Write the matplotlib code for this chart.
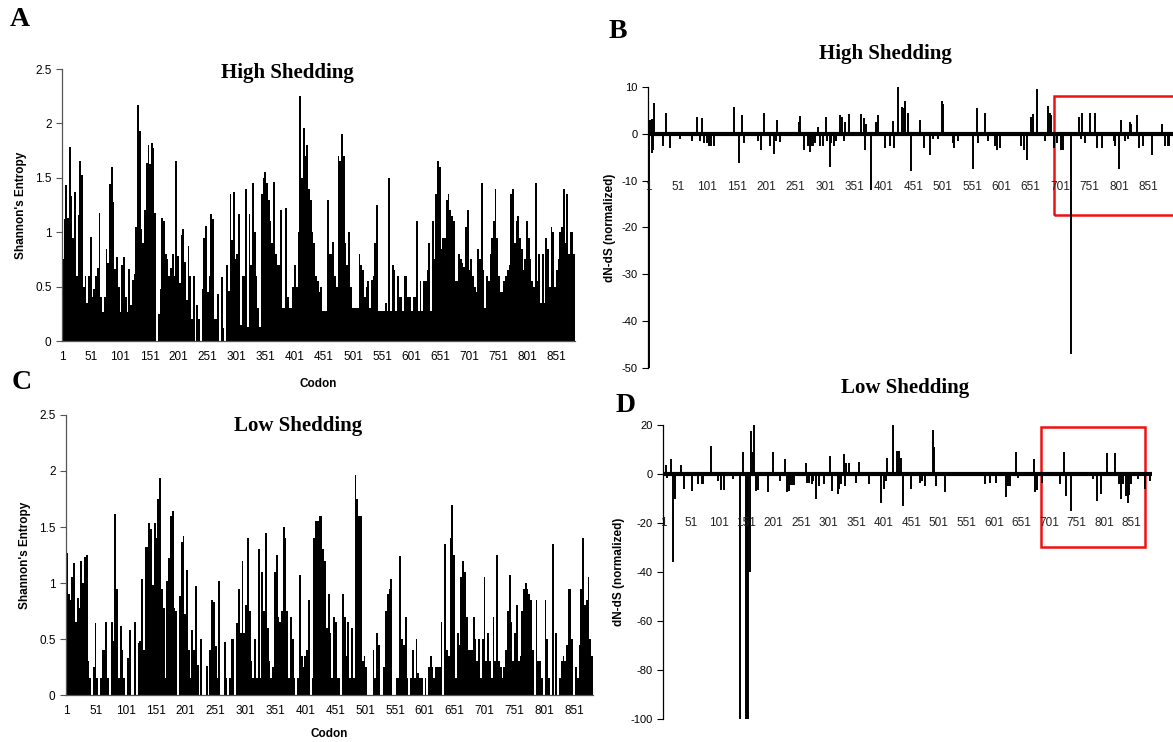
import matplotlib.pyplot as plt
from matplotlib.patches import Rectangle

# Shannon entropy per 3-codon window
BIN = 3
high_entropy = [
    0.75, 1.12, 1.43, 1.13, 1.78, 1.33, 0.95, 1.37, 0.60, 1.16,
    1.65, 1.53, 0.50, 0.60, 0.35, 0.60, 0.96, 0.40, 0.48,
    0.60, 0.67, 1.18, 0.40, 0.27, 0.40, 0.85, 0.72, 1.44,
    1.60, 1.28, 0.66, 0.77, 0.50, 0.27, 0.70, 0.77, 0.40, 0.27,
    0.66, 0.33, 0.56, 0.62, 1.05, 2.17, 1.93, 1.03, 0.90,
    1.20, 1.64, 1.80, 1.63, 1.82, 1.77, 1.18, 0.00, 0.25, 0.48,
    1.13, 1.10, 0.80, 0.75, 0.60, 0.67, 0.80, 0.60, 1.65, 0.78,
    0.53, 0.97, 1.03, 0.73, 0.38, 0.87, 0.60, 0.20, 0.60, 0.00,
    0.33, 0.20, 0.00, 0.48, 0.95, 1.06, 0.45, 0.60, 1.17,
    1.12, 0.20, 0.20, 0.43, 0.00, 0.59, 0.12, 0.00, 0.70,
    0.46, 1.35, 0.93, 1.37, 0.75, 0.80, 1.17,
    0.15, 0.60, 0.60, 1.40, 0.13, 1.17, 0.70, 1.45, 1.00, 0.60,
    0.30, 0.13, 1.35, 1.50, 1.55, 1.45, 1.30, 1.10, 0.90, 1.46,
    0.80, 0.70, 0.70, 1.20, 0.30, 0.30, 1.22, 0.40, 0.30,
    0.30, 0.50, 0.70, 0.50, 1.00, 2.25, 1.50, 1.96, 1.70, 1.80,
    1.40, 1.30, 1.00, 0.90, 0.60, 0.55, 0.45, 0.50, 0.28, 0.28,
    0.28, 1.30, 0.80, 0.80, 0.91, 0.60, 0.50, 1.70, 1.65, 1.90,
    1.70, 0.90, 0.70, 1.00, 0.50, 0.30, 0.30, 0.30, 0.30, 0.80,
    0.70, 0.65, 0.40, 0.50, 0.55, 0.30, 0.56, 0.60, 0.90, 1.25,
    0.28, 0.28, 0.28, 0.28, 0.35, 0.28, 1.50, 0.28, 0.70, 0.65,
    0.28, 0.60, 0.40, 0.40, 0.28, 0.60, 0.60,
    0.40, 0.40, 0.28, 0.40, 0.40, 1.10, 0.28, 0.55, 0.28, 0.55,
    0.55, 0.65, 0.90, 0.28, 1.10, 0.75, 1.35, 1.65, 1.60, 0.85,
    0.95, 0.95, 1.30, 1.35, 1.20, 1.15, 1.10, 0.55, 0.55, 0.80,
    0.75, 0.72, 0.68, 1.05, 1.20, 0.65, 0.75, 0.60, 0.50, 0.45,
    0.85, 0.75, 1.45, 0.65, 0.30, 0.60, 0.55, 0.80, 0.95, 1.10,
    1.40, 0.95, 0.60, 0.45, 0.45, 0.55, 0.60, 0.65, 0.70, 1.35,
    1.40, 0.90, 1.10, 1.15, 0.95, 0.85, 0.65, 0.75, 1.10, 0.95,
    0.75, 0.55, 0.50, 1.45, 0.55, 0.80, 0.35, 0.80, 0.35, 0.95,
    0.85, 0.50, 1.05, 1.00, 0.50, 0.65, 0.75, 1.00, 1.05, 1.40,
    0.90, 1.35, 0.80, 1.00, 1.00, 0.80,
]
low_entropy = [
    1.27, 0.90, 0.85, 1.05, 1.18, 0.65, 0.87, 0.78, 1.20, 1.00,
    1.23, 1.25, 0.30, 0.15, 0.00, 0.25, 0.64, 0.15, 0.00,
    0.15, 0.40, 0.40, 0.65, 0.15, 0.00, 0.65, 0.48,
    1.62, 0.95, 0.15, 0.62, 0.40, 0.15, 0.00, 0.33, 0.58,
    0.00, 0.00, 0.65, 0.00, 0.46, 0.48, 1.04, 0.40,
    1.32, 1.32, 1.54, 1.48, 0.98, 1.54, 1.40, 1.75, 1.94, 0.95,
    0.78, 0.15, 1.02, 1.22, 1.60, 1.64, 0.78, 0.75, 0.00, 0.88,
    1.37, 1.42, 0.72, 1.12, 0.40, 0.15, 0.58, 0.40, 0.97, 0.27,
    0.00, 0.50, 0.00, 0.00, 0.26, 0.00, 0.40, 0.85, 0.83,
    0.44, 0.15, 1.02, 0.00, 0.00, 0.47, 0.15, 0.00, 0.15,
    0.50, 0.50, 0.00, 0.64, 0.95,
    0.55, 1.20, 0.55, 0.80, 1.40, 0.75, 0.30, 0.15, 0.50, 0.15,
    1.30, 0.15, 1.10, 0.75, 1.45, 0.60, 0.30, 0.15, 0.25, 1.10,
    1.25, 0.70, 0.65, 0.75, 1.50, 1.40, 0.75, 0.15, 0.70, 0.50,
    0.15, 0.00, 0.15, 1.07, 0.35, 0.25, 0.35, 0.40, 0.85, 0.00,
    0.15, 1.40, 1.55, 1.55, 1.60, 1.60, 1.30, 1.20, 0.60, 0.90,
    0.55, 0.15, 0.70, 0.65, 0.15, 0.15, 0.00, 0.90, 0.70, 0.35,
    0.65, 0.15, 0.60, 0.15, 1.96, 1.75, 1.60, 1.60, 0.30, 0.35,
    0.25, 0.00, 0.00, 0.00, 0.40, 0.15, 0.55, 0.45, 0.00, 0.00,
    0.25, 0.75, 0.90, 0.95, 1.04, 0.00, 0.00, 0.15, 0.15, 1.24,
    0.50, 0.45, 0.70, 0.15, 0.00, 0.15, 0.40, 0.15, 0.50, 0.20,
    0.15, 0.15, 0.00, 0.15, 0.00, 0.25, 0.35, 0.25, 0.15,
    0.25, 0.25, 0.25, 0.65, 0.00, 1.35, 0.40, 0.35, 1.40,
    1.70, 1.25, 0.15, 0.55, 0.45, 1.05, 1.20, 1.10, 0.70, 0.40,
    0.40, 0.40, 0.70, 0.50, 0.30, 0.50, 0.15, 0.50,
    1.05, 0.30, 0.55, 0.30, 0.15, 0.70, 0.30, 1.25, 0.30, 0.25,
    0.15, 0.25, 0.40, 0.75, 1.07, 0.65, 0.30, 0.55, 0.80,
    0.30, 0.35, 0.75, 0.95, 1.00, 0.95, 0.90, 0.85, 0.40, 0.00,
    0.85, 0.30, 0.30, 0.15, 0.00, 0.85, 0.50, 0.15, 0.00,
    1.35, 0.00, 0.55, 0.00, 0.15, 0.30, 0.35, 0.30, 0.45, 0.95,
    0.95, 0.50, 0.00, 0.25, 0.15, 0.45, 0.95, 1.40, 0.80, 0.85,
    1.05, 0.50, 0.35,
]

# dN-dS (normalized), non-zero codons only
high_dnds_codons = [
    1, 2, 4, 6, 7, 8, 11, 25, 30, 38, 54, 74, 83, 88, 92, 96, 100, 104, 108, 113,
    147, 154, 160, 164, 187, 193, 198, 207, 214, 218, 219, 225, 257, 259, 266, 272,
    275, 278, 281, 284, 289, 293, 297, 302, 305, 309, 312, 316, 320, 326, 330, 333,
    335, 342, 363, 367, 369, 370, 380, 387, 391, 403, 411, 416, 419, 425, 432, 435,
    437, 443, 448, 462, 469, 479, 485, 493, 500, 502, 518, 521, 527, 553, 559, 561,
    574, 578, 590, 594, 598, 635, 639, 644, 652, 655, 661, 676, 680, 684, 686, 690,
    695, 702, 706, 720, 733, 737, 739, 744, 751, 761, 764, 773, 792, 795, 801, 805,
    811, 817, 820, 822, 831, 835, 842, 858, 874, 880, 884, 887,
]
high_dnds_values = [
    -50, 3.0, 3.0, 3.2, -4, -3.5, 6.5, -2.5, 4.5, -3, -1, -1.5, 3.7, -1.5, 3.3, -2, -2, -2.5, -2.5, -2.5,
    5.8, -6.3, 4.0, -2, -1.5, -3.5, 4.5, -2.5, -4.4, -1.5, 3.0, -1.8, 2.5, 3.8, -3.5, -2.5,
    -3.8, -2.5, -2.5, -2, 1.5, -2.5, -2.5, 3.7, -1.5, -7, -2, -2.5, -1.5, 4.0, 3.7, -1.5,
    2.6, 4.2, 4.2, 3.3, -3.5, 2.0, -12, 2.5, 4.0, -3, -2.5, 2.8, -3, 10.5, 5.8, 5.5,
    7.0, 4.5, -8, 3.0, -3, -4.5, -1, -1, 7.0, 6.3, -2, -3, -1.5, -7.5, 5.5, -2,
    4.5, -1.5, -2.5, -3.5, -3, -2.5, -3.5, -5.5, 3.5, 4.2, 9.5, -1.5, 6.0, 4.5, 4.0, -3,
    -2, -3.5, -3.5, -47, 3.5, -1, 4.5, -2, 4.5, 4.5, -3, -3, -1.5, -2.5, -7.5, 3.0,
    -1.5, -1, 2.5, 2.2, 4.0, -3, -2.5, -4.5, 2.0, -2.5, -2.5, -2.5,
]
low_dnds_codons = [
    5, 8, 14, 19, 22, 32, 38, 52, 64, 70, 73, 87, 100, 106, 110, 127, 139, 145, 150, 152,
    154, 158, 160, 163, 166, 169, 172, 190, 200, 212, 222, 225, 228, 231, 234, 237, 260,
    261, 266, 270, 273, 278, 284, 292, 303, 307, 317, 320, 324, 328, 331, 333, 337, 350,
    356, 374, 396, 402, 405, 406, 418, 425, 429, 433, 436, 451, 466, 471, 475, 490, 493,
    495, 512, 585, 593, 604, 623, 626, 631, 641, 644, 673, 676, 679, 689, 721, 729, 732,
    740, 781, 788, 796, 807, 820, 828, 832, 836, 840, 844, 847, 850, 862, 876, 885,
]
low_dnds_values = [
    3.5, -1.5, 6, -36, -10, 3.5, -6, -7, -4, -4, -4, 11.5, -3, -6.5, -6.5, -2, -100, 9, -100, -100,
    -100, -40, 17.5, 9, 21, -7, -6.5, -7.5, 9, -3, 6, -7.5, -7, -4.5, -4.5, -4.5, 4.5,
    -3.5, -3.5, -4, -3, -10, -5, -4, 7.5, -7, -8, -6, -4, 8, -5, 4.5, 4.5, -3.5,
    5, -4, -12, -6, -3, 6.5, 21, 9.5, 9.5, 6.5, -13, -6, -3.5, -3, -5, 18, 11,
    -5, -7.5, -4, -3.5, -3.5, -9.5, -5, -5, 9, -1.5, 6, -7.5, -6.5, -3.5, -4, 9, -9,
    -15, -2, -11, -8, 8.5, 8.5, -4, -10, -4, -9, -12, -8.5, -4, -2, -6, -3,
]

codon_ticks = [1, 51, 101, 151, 201, 251, 301, 351, 401, 451, 501, 551, 601, 651, 701, 751, 801, 851]

W, H = 1173, 742
plt.rcParams['font.family'] = ['Liberation Sans', 'DejaVu Sans']
plt.rcParams['axes.unicode_minus'] = False
serif = ['Liberation Serif', 'DejaVu Serif']
fig = plt.figure(figsize=(W / 100, H / 100), dpi=100)


def px_rect(left, right, top, bottom):
    return [left / W, 1 - bottom / H, (right - left) / W, (bottom - top) / H]


def entropy_panel(rect, values, title, title_y, xlabel_pad):
    ax = fig.add_axes(rect)
    x = [BIN * i + 2 for i in range(len(values))]
    ax.bar(x, values, width=BIN, color='black', linewidth=0)
    ax.set_xlim(0.5, BIN * len(values) + 0.5)
    ax.set_ylim(0, 2.5)
    ax.set_yticks([0, 0.5, 1, 1.5, 2, 2.5])
    ax.set_yticklabels(['0', '0.5', '1', '1.5', '2', '2.5'])
    ax.set_xticks(codon_ticks)
    ax.tick_params(axis='x', length=0, pad=7, labelsize=8.5)
    ax.tick_params(axis='y', length=4, width=0.8, color='#555555', labelsize=8.5)
    for s in ['top', 'right']:
        ax.spines[s].set_visible(False)
    for s in ['left', 'bottom']:
        ax.spines[s].set_color('#555555')
        ax.spines[s].set_linewidth(0.9)
    ax.set_ylabel("Shannon's Entropy", fontsize=8.5, fontweight='bold', labelpad=6)
    ax.set_xlabel('Codon', fontsize=8.5, fontweight='bold', labelpad=xlabel_pad)
    ax.text(0.44, title_y, title, transform=ax.transAxes, ha='center', va='center',
            fontsize=15, fontweight='bold', family=serif)
    return ax


def dnds_panel(rect, codons, values, ylim, yticks, label_y, title, title_x, title_y, box):
    ax = fig.add_axes(rect)
    ax.vlines(codons, 0, values, color='black', linewidth=1.4)
    ax.axhline(0, color='black', linewidth=3)
    ax.set_xlim(ylim[2], ylim[3])
    ax.set_ylim(ylim[0], ylim[1])
    ax.set_yticks(yticks)
    ax.set_xticks([])
    ax.tick_params(axis='y', length=4, width=0.8, labelsize=8)
    for s in ['top', 'right', 'bottom']:
        ax.spines[s].set_visible(False)
    ax.spines['left'].set_linewidth(0.9)
    for c in codon_ticks:
        ax.text(c, label_y, str(c), ha='center', va='center', fontsize=8.5, color='#222222')
    ax.set_ylabel('dN-dS (normalized)', fontsize=8.5, fontweight='bold', labelpad=4)
    ax.text(title_x, title_y, title, transform=ax.transAxes, ha='center', va='center',
            fontsize=15, fontweight='bold', family=serif)
    ax.add_patch(Rectangle((box[0], box[2]), box[1] - box[0], box[3] - box[2],
                           fill=False, edgecolor='#ee1111', linewidth=1.8, clip_on=False))
    return ax


entropy_panel(px_rect(62, 575, 69, 341), high_entropy, 'High Shedding', 0.985, 11)
entropy_panel(px_rect(66, 593, 415, 695), low_entropy, 'Low Shedding', 0.96, 8)

dnds_panel(px_rect(648, 1173, 87, 368), high_dnds_codons, high_dnds_values,
           (-50, 10, 0, 893), [10, 0, -10, -20, -30, -40, -50], -11.3,
           'High Shedding', 0.452, 1.118, (690, 900, -17.3, 8.1))
dnds_panel(px_rect(663, 1152, 425, 719), low_dnds_codons, low_dnds_values,
           (-100, 20, 0, 888), [20, 0, -20, -40, -60, -80, -100], -20,
           'Low Shedding', 0.495, 1.125, (687, 875, -29.8, 19.2))

for letter, px, py in [('A', 20, 20), ('B', 618, 32), ('C', 22, 383), ('D', 626, 405)]:
    fig.text(px / W, 1 - py / H, letter, ha='center', va='center', fontsize=20,
             fontweight='bold', family=serif)

fig.savefig('out.png', dpi=100)
